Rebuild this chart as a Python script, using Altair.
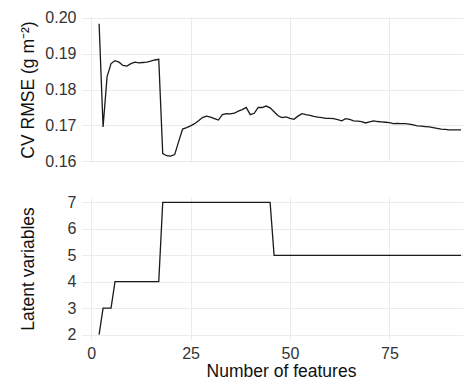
import altair as alt
import pandas as pd

n_features = list(range(2, 94))

cv_rmse = [
    0.1983, 0.1696, 0.1835, 0.1872, 0.1880, 0.1876, 0.1867, 0.1865, 0.1872, 0.1876,  # 2-11
    0.1874, 0.1875, 0.1876, 0.1879, 0.1882, 0.1884, 0.1622, 0.1616, 0.1615, 0.1619,  # 12-21
    0.1655, 0.1690, 0.1694, 0.1699, 0.1705, 0.1713, 0.1722, 0.1726, 0.1723, 0.1719,  # 22-31
    0.1715, 0.1730, 0.1733, 0.1732, 0.1734, 0.1740, 0.1744, 0.1750, 0.1730, 0.1734,  # 32-41
    0.1750, 0.1750, 0.1754, 0.1749, 0.1738, 0.1727, 0.1722, 0.1724, 0.1720, 0.1717,  # 42-51
    0.1726, 0.1733, 0.1730, 0.1728, 0.1725, 0.1723, 0.1722, 0.1720, 0.1720, 0.1719,  # 52-61
    0.1716, 0.1713, 0.1719, 0.1717, 0.1713, 0.1712, 0.1711, 0.1707, 0.1710, 0.1713,  # 62-71
    0.1711, 0.1710, 0.1709, 0.1708, 0.1705, 0.1706, 0.1705, 0.1705, 0.1704, 0.1702,  # 72-81
    0.1699, 0.1698, 0.1697, 0.1696, 0.1694, 0.1692, 0.1690, 0.1689, 0.1688, 0.1688,  # 82-91
    0.1688, 0.1688,                                                                  # 92-93
]

latent_vars = [
    2, 3, 3, 3, 4, 4, 4, 4, 4, 4,   # 2-11
    4, 4, 4, 4, 4, 4, 7, 7, 7, 7,   # 12-21
    7, 7, 7, 7, 7, 7, 7, 7, 7, 7,   # 22-31
    7, 7, 7, 7, 7, 7, 7, 7, 7, 7,   # 32-41
    7, 7, 7, 7, 5, 5, 5, 5, 5, 5,   # 42-51
    5, 5, 5, 5, 5, 5, 5, 5, 5, 5,   # 52-61
    5, 5, 5, 5, 5, 5, 5, 5, 5, 5,   # 62-71
    5, 5, 5, 5, 5, 5, 5, 5, 5, 5,   # 72-81
    5, 5, 5, 5, 5, 5, 5, 5, 5, 5,   # 82-91
    5, 5,                           # 92-93
]

x_ticks = [0, 25, 50, 75]
rmse_ticks = [0.16, 0.17, 0.18, 0.19, 0.20]
lv_ticks = [2, 3, 4, 5, 6, 7]

df = pd.DataFrame({"n": n_features, "rmse": cv_rmse, "lv": latent_vars})

W = 381
xscale = alt.Scale(domain=[-2.3, 93.5], nice=False, zero=False)
line_color = "#1a1a1a"

top = alt.Chart(df).mark_line(color=line_color, strokeWidth=1.3).encode(
    x=alt.X("n:Q", scale=xscale,
            axis=alt.Axis(values=x_ticks, labels=False, ticks=False, domain=False,
                          title=None, grid=True, minExtent=0, maxExtent=0)),
    y=alt.Y("rmse:Q",
            scale=alt.Scale(domain=[0.15985, 0.20015], nice=False, zero=False),
            axis=alt.Axis(values=rmse_ticks, format=".2f", title="CV RMSE (g m⁻²)")),
).properties(width=W, height=145)

bottom = alt.Chart(df).mark_line(color=line_color, strokeWidth=1.3).encode(
    x=alt.X("n:Q", scale=xscale,
            axis=alt.Axis(values=x_ticks, title="Number of features", titleX=199,
                          labelPadding=5, minExtent=21, maxExtent=21, titlePadding=1)),
    y=alt.Y("lv:Q",
            scale=alt.Scale(domain=[1.795, 7.205], nice=False, zero=False),
            axis=alt.Axis(values=lv_ticks, format="d", title="Latent variables")),
).properties(width=W, height=143)

chart = alt.vconcat(top, bottom, spacing=24).properties(
    padding={"left": 10, "top": 1, "right": 0, "bottom": 0}
).configure_view(stroke=None).configure_axis(
    gridColor="#ebebeb",
    gridWidth=1,
    domain=False,
    ticks=False,
    tickSize=0,
    labelFont="Liberation Sans",
    labelFontSize=16,
    labelColor="#333333",
    labelPadding=6,
    titleFont="Liberation Sans",
    titleFontSize=17.5,
    titleFontWeight="normal",
    titleColor="#111111",
).configure_axisLeft(
    minExtent=36, maxExtent=36, titlePadding=9
)

chart.save("out.html", embed_options={"renderer": "svg", "actions": False})
